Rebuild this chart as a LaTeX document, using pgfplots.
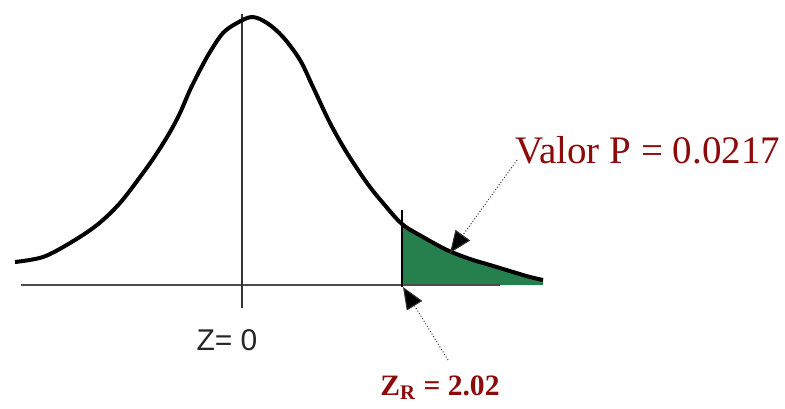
\documentclass[border=0pt]{standalone}
\usepackage{pgfplots}
\pgfplotsset{compat=1.18}
\usepackage{fontspec}
\setmainfont{Liberation Serif}
\newfontfamily\arialf{Liberation Sans}
\usetikzlibrary{arrows.meta}
\definecolor{dred}{RGB}{140,10,10}
\definecolor{pgreen}{RGB}{38,128,78}
\begin{document}
\begin{tikzpicture}
\begin{axis}[
  x=0.5pt, y=0.5pt,
  xmin=0, xmax=785, ymin=-123, ymax=285,
  hide axis, clip=false,
]
\path[use as bounding box] (axis cs:0,-123) rectangle (axis cs:785,285);
% shaded tail
\addplot[fill=pgreen, draw=none, smooth] coordinates {
 (402,61) (423,48) (447,35) (470,26) (490,20) (513,13) (530,8) (543,5)
} \closedcycle;
% baseline and centre line
\draw[black!70, line width=0.75pt] (axis cs:21,0) -- (axis cs:500,0);
\draw[black!80, line width=0.6pt] (axis cs:242,271) -- (axis cs:242,-23);
\draw[black, line width=1pt] (axis cs:402,75) -- (axis cs:402,-2);
% curve
\addplot[black, line width=2pt, smooth, tension=0.55] coordinates {
 (15,23) (43,28) (70,42) (97,60) (120,82) (143,112) (157,132) (170,153)
 (180,172) (190,195) (200,215) (210,233) (223,252) (237,262) (252,268) (267,262)
 (283,248) (300,225) (313,198) (330,162) (347,132) (367,102) (383,82)
 (402,61) (423,48) (447,35) (470,26) (490,20) (513,13) (530,8) (543,5)
};
% arrows
\draw[black!80, densely dotted, line width=0.5pt,
  -{Triangle[length=11pt, width=9pt, fill=black]}] (axis cs:517,125) -- (axis cs:450,32);
\draw[black!80, densely dotted, line width=0.5pt,
  -{Triangle[length=11pt, width=9pt, fill=black]}] (axis cs:448,-75) -- (axis cs:403,-2);
% labels
\node[anchor=base west, text=dred, font=\fontsize{19.5}{22}\selectfont, inner sep=0pt]
  at (axis cs:515,122) {Valor P = 0.0217};
\node[anchor=base, text=black!85, font=\arialf\fontsize{15}{18}\selectfont, inner sep=0pt]
  at (axis cs:227,-65) {Z= 0};
\node[anchor=base west, text=dred, font=\bfseries\fontsize{14.8}{17}\selectfont, inner sep=0pt]
  at (axis cs:380,-110) {Z\textsubscript{R} = 2.02};
\end{axis}
\end{tikzpicture}
\end{document}
